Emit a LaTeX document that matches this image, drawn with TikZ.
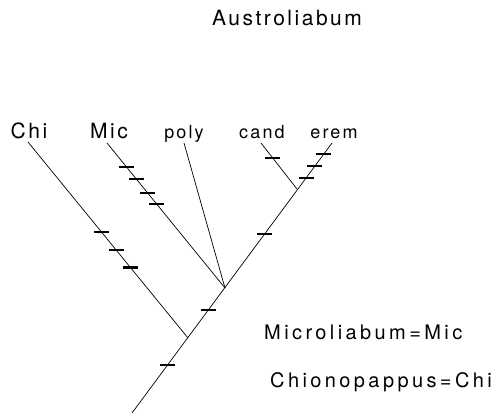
\documentclass[tikz,border=0pt]{standalone}
\usepackage{fontspec}
\setmainfont{TeX Gyre Heros}[LetterSpace=12]
\newfontfamily\legendfont{TeX Gyre Heros}[LetterSpace=17]
\begin{document}
\begin{tikzpicture}[x=1pt,y=-1pt,
  branch/.style={line width=0.7pt,black},
  tickbar/.style={line width=2.6pt,black},
  biglbl/.style={font=\fontsize{21}{24}\selectfont,anchor=base,inner sep=0pt},
  smalllbl/.style={font=\fontsize{18}{20}\selectfont,anchor=base,inner sep=0pt},
  legend/.style={font=\legendfont\fontsize{20}{24}\selectfont,anchor=base west,inner sep=0pt}]
\useasboundingbox (0,0) rectangle (496,413);
% title
\node[biglbl] (title) at (287,25) {Austroliabum};
% tips
\coordinate (root) at (132,413);
\coordinate (jchi) at (188,338);
\coordinate (jpoly) at (225,288);
\coordinate (jce) at (297,189);
\coordinate (tchi) at (28,142);
\coordinate (tmic) at (107,143);
\coordinate (tpoly) at (184,143);
\coordinate (tcand) at (261,143);
\coordinate (terem) at (332,143);
% labels
\node[biglbl] (lchi) at (29,138) {Chi};
\node[biglbl] (lmic) at (109,138) {Mic};
\node[smalllbl] (lpoly) at (184,138) {poly};
\node[smalllbl] (lcand) at (262,138) {cand};
\node[smalllbl] (lerem) at (334,138) {erem};
% branches
\draw[branch] (root) -- (terem);
\draw[branch] (jchi) -- (tchi);
\draw[branch] (jpoly) -- (tmic);
\draw[branch] (jpoly) -- (tpoly);
\draw[branch] (jce) -- (tcand);
% ticks
\foreach \p in {0.46,0.55,0.64} {
  \path (tchi) -- (jchi) coordinate[pos=\p] (c);
  \draw[tickbar] ([xshift=-7.5pt]c) -- ([xshift=7.5pt]c);
}
\foreach \p in {0.165,0.248,0.345,0.42} {
  \path (tmic) -- (jpoly) coordinate[pos=\p] (c);
  \draw[tickbar] ([xshift=-7.5pt]c) -- ([xshift=7.5pt]c);
}
\path (tcand) -- (jce) coordinate[pos=0.326] (c);
\draw[tickbar] ([xshift=-7.5pt]c) -- ([xshift=7.5pt]c);
\foreach \yy in {154,166,178,234,310,365} {
  \path (root) -- (terem) coordinate[pos={(413-\yy)/270}] (c);
  \draw[tickbar] ([xshift=-7.5pt]c) -- ([xshift=7.5pt]c);
}
% legend
\node[legend] (lg1) at (264,339) {Microliabum=Mic};
\node[legend] (lg2) at (270,387) {Chionopappus=Chi};
\end{tikzpicture}
\end{document}
